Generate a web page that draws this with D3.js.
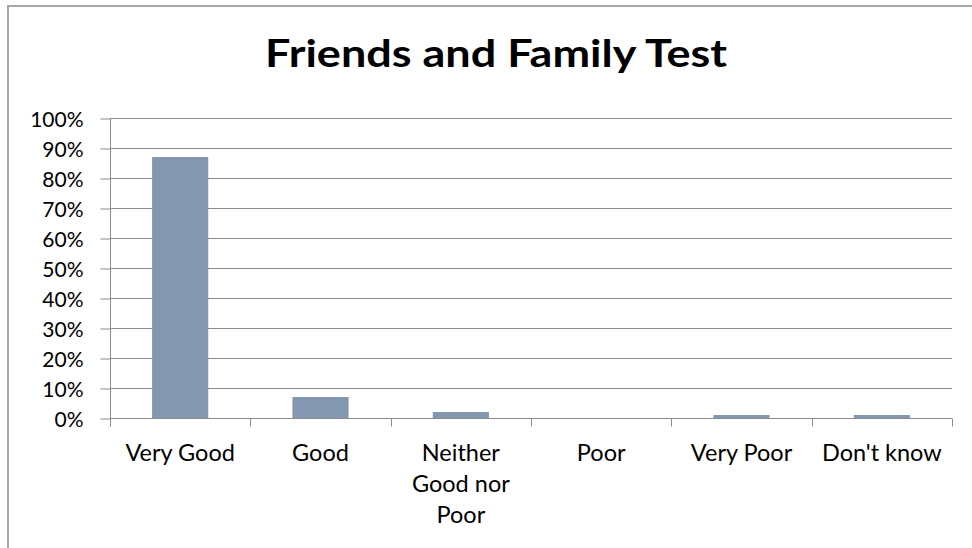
<!DOCTYPE html>
<html>
<head>
<meta charset="utf-8">
<script src="https://cdn.jsdelivr.net/npm/d3@7"></script>
<style>
  html, body { margin: 0; padding: 0; background: #fff; }
  svg { display: block; }
</style>
</head>
<body>
<svg id="chart" width="972" height="548"></svg>
<script>
const title = "Friends and Family Test";
const categories = ["Very Good", "Good", "Neither Good nor Poor", "Poor", "Very Poor", "Don't know"];
const values = [0.87, 0.07, 0.02, 0.0, 0.01, 0.01];
const yTicks = [0, 0.1, 0.2, 0.3, 0.4, 0.5, 0.6, 0.7, 0.8, 0.9, 1.0];

const svg = d3.select("#chart");
const W = 972, H = 548;
const plot = { left: 110, right: 952, top: 118, bottom: 418 };
const gridColor = "#8c8c8c";
const barColor = "#8497b0";
const font = "Lato, 'Open Sans', sans-serif";

// outer frame (top and left edges visible)
svg.append("line").attr("x1", 7).attr("x2", W).attr("y1", 6).attr("y2", 6)
  .attr("stroke", "#a6a6a6").attr("stroke-width", 2);
svg.append("line").attr("x1", 8).attr("x2", 8).attr("y1", 5).attr("y2", H)
  .attr("stroke", "#a6a6a6").attr("stroke-width", 2);

// title
svg.append("text").attr("x", 496).attr("y", 67)
  .attr("text-anchor", "middle")
  .attr("font-family", font).attr("font-weight", "bold").attr("font-size", 38)
  .attr("textLength", 462).attr("lengthAdjust", "spacingAndGlyphs")
  .attr("fill", "#000").text(title);

const x = d3.scaleBand().domain(categories).range([plot.left, plot.right]).paddingInner(0).paddingOuter(0);
const y = d3.scaleLinear().domain([0, 1]).range([plot.bottom, plot.top]);

// gridlines
svg.append("g").selectAll("line").data(yTicks.filter(d => d > 0)).join("line")
  .attr("x1", plot.left).attr("x2", plot.right)
  .attr("y1", d => Math.round(y(d)) + 0.5).attr("y2", d => Math.round(y(d)) + 0.5)
  .attr("stroke", gridColor).attr("stroke-width", 1);

// bars
const barFrac = 0.4;
svg.append("g").selectAll("rect").data(categories).join("rect")
  .attr("x", (d) => x(d) + x.bandwidth() * (1 - barFrac) / 2)
  .attr("width", x.bandwidth() * barFrac)
  .attr("y", (d, i) => y(values[i]))
  .attr("height", (d, i) => y(0) - y(values[i]))
  .attr("fill", barColor);

// y axis
const yAxis = d3.axisLeft(y).tickValues(yTicks).tickFormat(d3.format(".0%")).tickSize(10).tickPadding(17);
const gy = svg.append("g").attr("transform", `translate(${plot.left + 0.5},0.5)`).call(yAxis);
gy.select(".domain").attr("stroke", gridColor).attr("d", `M0,${plot.top}V${plot.bottom + 8}`);
gy.selectAll(".tick line").attr("stroke", gridColor);
gy.selectAll(".tick text").attr("font-family", font).attr("font-size", 21).attr("fill", "#000")
  .attr("dy", "0.36em");

// x axis
const xAxis = d3.axisBottom(x).tickSize(0).tickPadding(0);
const gx = svg.append("g").attr("transform", `translate(0,${plot.bottom + 0.5})`).call(xAxis);
gx.select(".domain").attr("stroke", gridColor).attr("d", `M${plot.left},0H${plot.right}`);
// boundary ticks between categories
const bounds = categories.map(c => x(c)).concat([plot.right]);
gx.append("g").selectAll("line").data(bounds).join("line")
  .attr("x1", d => Math.round(d) + 0.5).attr("x2", d => Math.round(d) + 0.5)
  .attr("y1", 0).attr("y2", 8).attr("stroke", gridColor);

gx.selectAll(".tick text").each(function(d) {
  const t = d3.select(this);
  t.attr("font-family", font).attr("font-size", 23.5).attr("fill", "#000").attr("y", 0).attr("dy", null);
  t.text(null);
  const words = d.split(" ");
  const maxW = 130;
  let lines = [], cur = [];
  const tmp = t.append("tspan");
  words.forEach(w => {
    const test = cur.concat([w]).join(" ");
    tmp.text(test);
    if (tmp.node().getComputedTextLength() > maxW && cur.length) {
      lines.push(cur.join(" ")); cur = [w];
    } else cur.push(w);
  });
  lines.push(cur.join(" "));
  tmp.remove();
  lines.forEach((ln, i) => {
    t.append("tspan").attr("x", 0).attr("y", 42 + i * 31).text(ln);
  });
});
</script>
</body>
</html>
